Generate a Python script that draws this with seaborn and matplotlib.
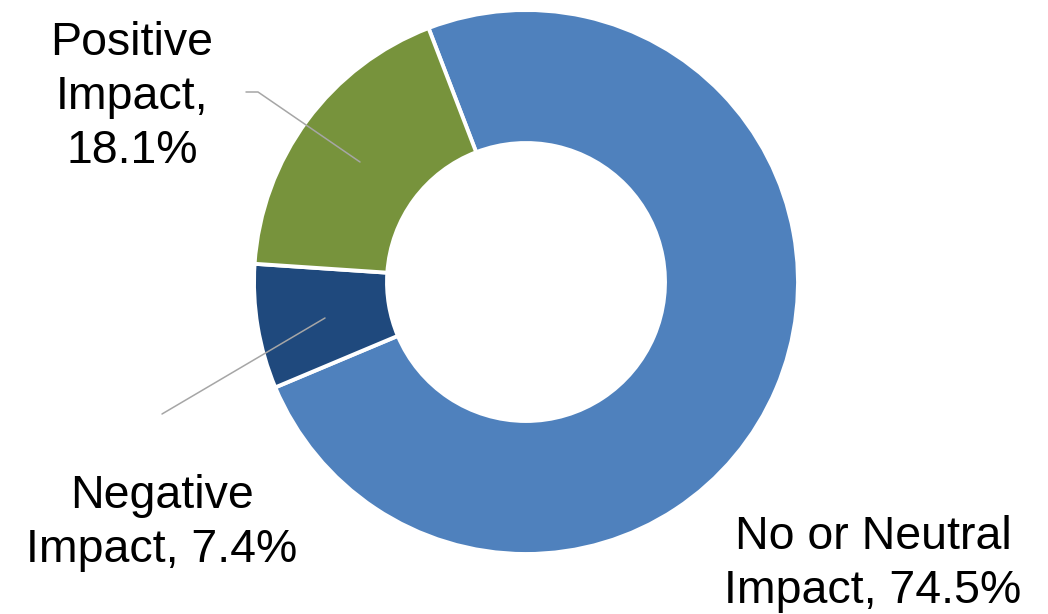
import matplotlib
matplotlib.use("Agg")
import matplotlib.pyplot as plt
import seaborn as sns

# ---- data ----
categories = ["No or Neutral Impact", "Negative Impact", "Positive Impact"]
values = [74.5, 7.4, 18.1]
label_lines = [["No or Neutral", "Impact, 74.5%"],
               ["Negative", "Impact, 7.4%"],
               ["Positive", "Impact,", "18.1%"]]
colors = ["#4F81BD", "#1F497D", "#77933C"]

sns.set_theme(style="white")
plt.rcParams["font.family"] = ["Liberation Sans", "DejaVu Sans"]

W, H = 1048, 614
fig = plt.figure(figsize=(W / 100, H / 100), dpi=100)
ax = fig.add_axes([0, 0, 1, 1])

def Y(y):
    return H - y

cx, cy, R, r_in = 526, 282, 272, 139
ax.pie(values, colors=colors, startangle=111, counterclock=False,
       center=(cx, Y(cy)), radius=R, frame=True,
       wedgeprops=dict(width=R - r_in, edgecolor="white", linewidth=2.8))
ax.set_xlim(0, W)
ax.set_ylim(0, H)
ax.set_aspect("equal")
ax.axis("off")

# leader lines
lc = "#A6A6A6"
ax.plot([246, 258, 360], [Y(92), Y(92), Y(162)], color=lc, lw=1.1)
ax.plot([162, 325], [Y(414), Y(318)], color=lc, lw=1.1)

# labels (x center, first baseline y)
label_pos = [(873, 549), (162, 508), (132, 55)]
fs = 33.5
for lines, (x, y0) in zip(label_lines, label_pos):
    for i, line in enumerate(lines):
        ax.text(x, Y(y0 + i * 54), line, ha="center", va="baseline",
                fontsize=fs, color="black")

fig.savefig("out.png", dpi=100)
